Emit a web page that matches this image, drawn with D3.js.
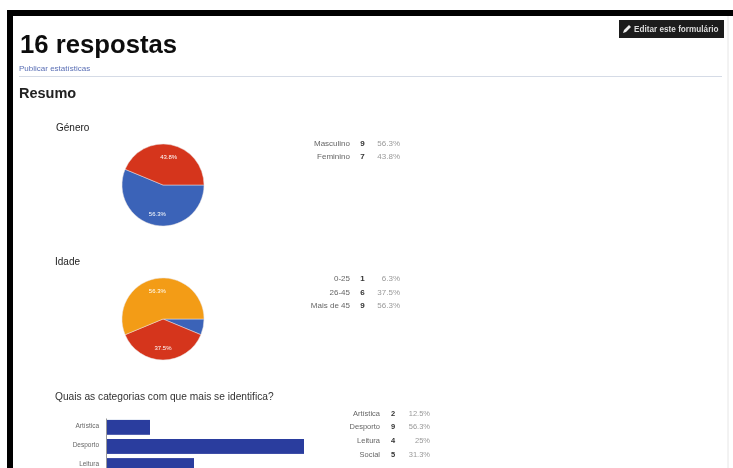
<!DOCTYPE html>
<html>
<head>
<meta charset="utf-8">
<script src="https://cdn.jsdelivr.net/npm/d3@7"></script>
<style>
html, body { margin: 0; padding: 0; background: #fff; overflow: hidden; }
svg { display: block; font-family: "Liberation Sans", Arial, sans-serif; }
</style>
</head>
<body>
<div id="chart"></div>
<script>
// values
var generoLabels = ["Masculino", "Feminino"];
var generoCounts = [9, 7];
var generoPct = ["56.3%", "43.8%"];

var idadeLabels = ["0-25", "26-45", "Mais de 45"];
var idadeCounts = [1, 6, 9];
var idadePct = ["6.3%", "37.5%", "56.3%"];

var categoriaLabels = ["Artística", "Desporto", "Leitura", "Social"];
var categoriaCounts = [2, 9, 4, 5];
var categoriaPct = ["12.5%", "56.3%", "25%", "31.3%"];

var blue = "#3a63b8", red = "#d5351c", orange = "#f39c12", barBlue = "#2a3c9e";

var width = 733, height = 468;

var svg = d3.select("#chart").append("svg")
    .attr("width", width)
    .attr("height", height);

// the scan is soft, so everything gets a little blur
var defs = svg.append("defs");
defs.append("filter").attr("id", "soft")
    .append("feGaussianBlur").attr("stdDeviation", 0.55);

var root = svg.append("g").attr("filter", "url(#soft)");

// black frame, only top and left are visible
root.append("rect").attr("x", 7).attr("y", 10).attr("width", 726).attr("height", 6).attr("fill", "#000");
root.append("rect").attr("x", 7).attr("y", 10).attr("width", 6).attr("height", 458).attr("fill", "#000");
root.append("line").attr("x1", 728).attr("x2", 728).attr("y1", 16).attr("y2", 468)
    .attr("stroke", "#e6e6e6");

function addText(x, y, txt, size, opts) {
  opts = opts || {};
  return root.append("text")
      .attr("x", x).attr("y", y)
      .attr("font-size", size)
      .attr("font-weight", opts.weight || "normal")
      .attr("fill", opts.fill || "#222")
      .attr("text-anchor", opts.anchor || "start")
      .text(txt);
}

addText(20, 53, "16 respostas", 25.7, {weight: "bold", fill: "#111"});
addText(19, 71, "Publicar estatísticas", 8, {fill: "#5a6fb5"});
root.append("line").attr("x1", 19).attr("x2", 722).attr("y1", 76.5).attr("y2", 76.5)
    .attr("stroke", "#d5dbe6");
addText(19, 98, "Resumo", 14.5, {weight: "bold", fill: "#222"});

// edit button
root.append("rect").attr("x", 619).attr("y", 20).attr("width", 105).attr("height", 18).attr("fill", "#1a1a1a");
root.append("path").attr("d", "M623 33 l1 -3 l5 -5 l2 2 l-5 5 z").attr("fill", "#eee");
addText(634, 32, "Editar este formulário", 8.2, {weight: "bold", fill: "#ddd"});

addText(56, 130.5, "Género", 10);
addText(55, 264.5, "Idade", 10);
addText(55, 399.5, "Quais as categorias com que mais se identifica?", 10.2, {fill: "#333"});

var pie = d3.pie().sort(null)
    .startAngle(Math.PI / 2)
    .endAngle(Math.PI / 2 + 2 * Math.PI);
var arc = d3.arc().innerRadius(0).outerRadius(41);
var labelArc = d3.arc().innerRadius(29).outerRadius(29);

function drawPie(cx, cy, counts, pct, colors, minLabel) {
  var g = root.append("g").attr("transform", "translate(" + cx + "," + cy + ")");
  var arcs = pie(counts);
  g.selectAll("path").data(arcs).enter().append("path")
      .attr("d", arc)
      .attr("fill", function(d, i) { return colors[i]; })
      .attr("stroke", "#e8e0e0")
      .attr("stroke-width", 0.5);
  g.selectAll("text").data(arcs.filter(function(d) { return d.value >= minLabel; })).enter().append("text")
      .attr("transform", function(d) { return "translate(" + labelArc.centroid(d) + ")"; })
      .attr("text-anchor", "middle")
      .attr("dy", "0.35em")
      .attr("font-size", 6)
      .attr("fill", "#fff")
      .text(function(d) { return pct[d.index]; });
}

drawPie(163, 185, generoCounts, generoPct, [blue, red], 2);
drawPie(163, 319, idadeCounts, idadePct, [blue, red, orange], 2);

function drawTable(labels, counts, pct, rowsY, xLabel, xCount, xPct, size) {
  labels.forEach(function(l, i) {
    addText(xLabel, rowsY[i], l, size, {anchor: "end", fill: "#666"});
    addText(xCount, rowsY[i], counts[i], size, {anchor: "middle", weight: "bold", fill: "#333"});
    addText(xPct, rowsY[i], pct[i], size, {anchor: "end", fill: "#999"});
  });
}

drawTable(generoLabels, generoCounts, generoPct, [146, 159], 350, 362.5, 400, 8);
drawTable(idadeLabels, idadeCounts, idadePct, [281, 294.5, 308], 350, 362.5, 400, 8);
drawTable(categoriaLabels, categoriaCounts, categoriaPct, [416, 429, 443, 457], 380, 393, 430, 7.5);

// bar chart, runs off the bottom of the picture
var x = d3.scaleLinear().domain([0, 9]).range([106, 304]);
var y = d3.scaleBand().domain(categoriaLabels).range([418, 494]).paddingInner(0.22).paddingOuter(0.1);

var yAxis = d3.axisLeft(y).tickSize(0).tickPadding(7);
var axisG = root.append("g").attr("transform", "translate(106,0)").call(yAxis);
axisG.select(".domain").attr("stroke", "#999");
axisG.selectAll("text").attr("font-size", 6.5).attr("fill", "#666")
    .attr("dy", "0.1em")
    .attr("font-family", "\"Liberation Sans\", Arial, sans-serif");
// the Social row is below the edge of the picture, so its tick is not drawn
axisG.selectAll(".tick").filter(function(d) { return y(d) > height; }).remove();

root.selectAll("rect.bar").data(categoriaLabels).enter().append("rect")
    .attr("class", "bar")
    .attr("x", x(0) + 1)
    .attr("y", function(d) { return y(d); })
    .attr("width", function(d, i) { return x(categoriaCounts[i]) - x(0) - 1; })
    .attr("height", y.bandwidth())
    .attr("fill", barBlue);
</script>
</body>
</html>
